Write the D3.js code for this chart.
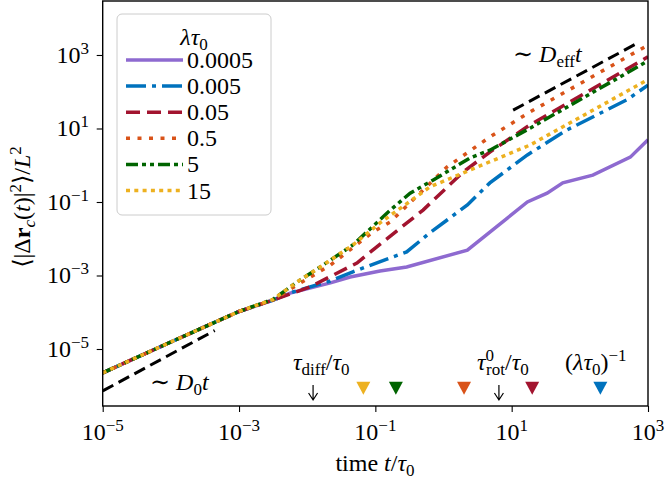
<!DOCTYPE html>
<html>
<head>
<meta charset="utf-8">
<script src="https://cdn.jsdelivr.net/npm/d3@7"></script>
<style>
body { margin: 0; background: #fff; }
text { font-family: "Liberation Serif", "DejaVu Serif", serif; fill: #000; }
</style>
</head>
<body>
<script>
// lambda*tau0 values, one curve each
var lambdas = [0.0005, 0.005, 0.05, 0.5, 5, 15];
var lambdaLabels = ["0.0005", "0.005", "0.05", "0.5", "5", "15"];

// time t/tau0 and MSD / L^2
var tPurple = [1e-5, 1e-4, 1e-3, 3.16e-3, 5.62e-3, 2.19e-2, 4.27e-2, 0.117, 0.288, 2.24, 17.0, 33.1, 56.2, 155, 550, 1000];
var msdPurple = [2.24e-6, 1.55e-5, 1.05e-4, 2.14e-4, 3.31e-4, 6.31e-4, 9.12e-4, 1.32e-3, 1.70e-3, 4.90e-3, 0.1, 0.174, 0.331, 0.537, 1.66, 4.90];

var tBlue = [1e-5, 1e-4, 1e-3, 3.16e-3, 5.62e-3, 2.19e-2, 4.68e-2, 0.166, 0.288, 0.631, 2.24, 4.79, 17.0, 64.6, 490, 1000];
var msdBlue = [2.24e-6, 1.55e-5, 1.05e-4, 2.14e-4, 3.39e-4, 7.08e-4, 1.26e-3, 3.02e-3, 4.37e-3, 1.45e-2, 8.32e-2, 0.331, 1.91, 9.12, 60.3, 151];

var tCrimson = [1e-5, 1e-4, 1e-3, 3.16e-3, 1.1e-2, 5.37e-2, 0.105, 0.501, 1.95, 4.79, 18.6, 1000];
var msdCrimson = [2.24e-6, 1.55e-5, 1.05e-4, 2.14e-4, 4.90e-4, 2.19e-3, 6.03e-3, 6.03e-2, 0.661, 2.29, 12.6, 891];

var tOrange = [1e-5, 1e-4, 1e-3, 3.16e-3, 7.08e-3, 2.19e-2, 9.12e-2, 0.166, 1.12, 4.79, 18.6, 1000];
var msdOrange = [2.24e-6, 1.55e-5, 1.05e-4, 2.14e-4, 5.50e-4, 1.91e-3, 1.51e-2, 2.88e-2, 0.891, 5.89, 28.2, 1860];

var tGreen = [1e-5, 1e-4, 1e-3, 3.16e-3, 7.08e-3, 1.55e-2, 4.68e-2, 0.166, 0.324, 0.708, 2.45, 4.79, 18.6, 1000];
var msdGreen = [2.24e-6, 1.55e-5, 1.05e-4, 2.24e-4, 6.61e-4, 1.70e-3, 6.76e-3, 6.03e-2, 0.174, 0.398, 1.58, 2.57, 10.2, 692];

var tYellow = [1e-5, 1e-4, 1e-3, 3.16e-3, 7.08e-3, 1.55e-2, 4.68e-2, 0.117, 0.631, 2.45, 18.6, 1000];
var msdYellow = [2.24e-6, 1.55e-5, 1.05e-4, 2.24e-4, 6.61e-4, 1.70e-3, 6.76e-3, 2.69e-2, 0.257, 0.741, 3.55, 214];

// guide lines ~ D0 t and ~ Deff t
var D0 = 0.0724;
var tD0 = [1e-5, 4.4e-4];
var Deff = 3.0;
var tDeff = [10.5, 708];

// characteristic times on the time axis
var tauDiff = 0.0122;
var tauRot = 6.5;
var markerLevel = 8.5e-7;

var xTicks = [1e-5, 1e-3, 1e-1, 1e1, 1e3];
var xTickExp = ["\u22125", "\u22123", "\u22121", "1", "3"];
var yTicks = [1e-5, 1e-3, 1e-1, 1e1, 1e3];
var yTickExp = ["\u22125", "\u22123", "\u22121", "1", "3"];

var colors = ["#8e6ad0", "#0072bd", "#a2142f", "#d95319", "#006400", "#edb120"];
var dashes = [null, "20,6,4,6", "14,7", "4,7.5", "12,4,4,4,4,4", "4,4.3"];

var series = [
	{t: tPurple, m: msdPurple},
	{t: tBlue, m: msdBlue},
	{t: tCrimson, m: msdCrimson},
	{t: tOrange, m: msdOrange},
	{t: tGreen, m: msdGreen},
	{t: tYellow, m: msdYellow}
];

var width = 666, height = 480;
var plotLeft = 102.7, plotRight = 648, plotTop = 1, plotBottom = 406;

var svg = d3.select("body").append("svg")
	.attr("width", width)
	.attr("height", height);

svg.append("rect").attr("width", width).attr("height", height).attr("fill", "#fff");

var x = d3.scaleLog().domain([1e-5, 1e3]).range([plotLeft, plotRight]);
var y = d3.scaleLog().domain([Math.pow(10, -6.551), Math.pow(10, 4.469)]).range([plotBottom, plotTop]);

svg.append("clipPath").attr("id", "plot")
	.append("rect").attr("x", plotLeft).attr("y", plotTop).attr("width", plotRight - plotLeft).attr("height", plotBottom - plotTop);

var plot = svg.append("g").attr("clip-path", "url(#plot)");

var line = d3.line().x(function(d) { return x(d[0]); }).y(function(d) { return y(d[1]); });

// guide lines
plot.append("path")
	.attr("d", line(tD0.map(function(t) { return [t, D0 * t]; })))
	.attr("fill", "none").attr("stroke", "#000").attr("stroke-width", 3).attr("stroke-dasharray", "12,6");
plot.append("path")
	.attr("d", line(tDeff.map(function(t) { return [t, Deff * t]; })))
	.attr("fill", "none").attr("stroke", "#000").attr("stroke-width", 3).attr("stroke-dasharray", "12,6");

// curves, drawn in the legend order
series.forEach(function(s, i) {
	plot.append("path")
		.attr("d", line(d3.zip(s.t, s.m)))
		.attr("fill", "none")
		.attr("stroke", colors[i])
		.attr("stroke-width", 3.5)
		.attr("stroke-dasharray", dashes[i]);
});

// triangles at 1/lambda
var tri = "M-7,-6.5L7,-6.5L0,6.5Z";
lambdas.forEach(function(l, i) {
	var t = 1 / l;
	if (t > 1e3) return;
	plot.append("path")
		.attr("d", tri)
		.attr("transform", "translate(" + x(t) + "," + y(markerLevel) + ")")
		.attr("fill", colors[i]);
});

// small arrows for tau_diff and tau_rot
[tauDiff, tauRot].forEach(function(t) {
	var ax = x(t);
	svg.append("path")
		.attr("d", "M" + ax + ",385L" + ax + ",400M" + (ax - 4.5) + ",393L" + ax + ",400L" + (ax + 4.5) + ",393")
		.attr("fill", "none").attr("stroke", "#000").attr("stroke-width", 1.2);
});

// axes
svg.append("g").attr("transform", "translate(0," + plotBottom + ")")
	.call(d3.axisBottom(x).tickValues(xTicks).tickFormat("").tickSize(6).tickSizeOuter(0));
svg.append("g").attr("transform", "translate(" + plotLeft + ",0)")
	.call(d3.axisLeft(y).tickValues(yTicks).tickFormat("").tickSize(6).tickSizeOuter(0));
svg.selectAll(".domain").remove();
svg.selectAll(".tick line").attr("stroke", "#000").attr("stroke-width", 1.1);

svg.append("rect")
	.attr("x", plotLeft).attr("y", plotTop).attr("width", plotRight - plotLeft).attr("height", plotBottom - plotTop)
	.attr("fill", "none").attr("stroke", "#000").attr("stroke-width", 1.4);

// text with sub / superscripts
function rich(g, parts, size) {
	var txt = g.append("text").attr("font-size", size);
	var shift = 0;
	parts.forEach(function(p) {
		var ts = txt.append("tspan").text(p.s);
		var want = p.sup ? -9 : (p.sub ? 5 : 0);
		if (p.sup || p.sub) ts.attr("font-size", 17);
		if (want - shift !== 0) ts.attr("dy", want - shift);
		shift = want;
		if (p.i) ts.attr("font-style", "italic");
		if (p.b) ts.attr("font-weight", "bold");
		if (p.dx) ts.attr("dx", p.dx);
	});
	return txt;
}

xTicks.forEach(function(t, i) {
	rich(svg, [{s: "10"}, {s: xTickExp[i], sup: true}], 24)
		.attr("x", x(t)).attr("y", 440).attr("text-anchor", "middle");
});
yTicks.forEach(function(v, i) {
	rich(svg, [{s: "10"}, {s: yTickExp[i], sup: true}], 24)
		.attr("x", 89).attr("y", y(v) + 8).attr("text-anchor", "end");
});

// axis labels
rich(svg, [{s: "time "}, {s: "t", i: true}, {s: "/"}, {s: "\u03c4", i: true}, {s: "0", sub: true}], 24)
	.attr("x", 375).attr("y", 471).attr("text-anchor", "middle");

rich(svg, [{s: "\u27e8|\u0394"}, {s: "r", b: true}, {s: "c", i: true, sub: true}, {s: "("}, {s: "t", i: true},
	{s: ")|"}, {s: "2", sup: true}, {s: "\u27e9/"}, {s: "L", i: true}, {s: "2", sup: true}], 24)
	.attr("text-anchor", "middle")
	.attr("transform", "translate(30,207) rotate(-90)");

// annotations
rich(svg, [{s: "\u223c "}, {s: "D", i: true}, {s: "0", sub: true}, {s: "t", i: true}], 24)
	.attr("x", 150).attr("y", 390);
rich(svg, [{s: "\u223c "}, {s: "D", i: true}, {s: "eff", sub: true}, {s: "t", i: true}], 24)
	.attr("x", 513).attr("y", 62);
rich(svg, [{s: "\u03c4", i: true}, {s: "diff", sub: true}, {s: "/"}, {s: "\u03c4", i: true}, {s: "0", sub: true}], 24)
	.attr("x", 293).attr("y", 370);
rich(svg, [{s: "\u03c4", i: true}, {s: "0", sup: true}, {s: "rot", sub: true, dx: -8}, {s: "/"}, {s: "\u03c4", i: true}, {s: "0", sub: true}], 24)
	.attr("x", 477).attr("y", 370);
rich(svg, [{s: "("}, {s: "\u03bb\u03c4", i: true}, {s: "0", sub: true}, {s: ")"}, {s: "\u22121", sup: true}], 24)
	.attr("x", 565).attr("y", 370);

// legend
var leg = svg.append("g");
leg.append("rect")
	.attr("x", 117).attr("y", 14).attr("width", 154).attr("height", 201).attr("rx", 5)
	.attr("fill", "#fff").attr("fill-opacity", 0.8)
	.attr("stroke", "#cccccc").attr("stroke-width", 1);
rich(leg, [{s: "\u03bb\u03c4", i: true}, {s: "0", sub: true}], 24)
	.attr("x", 194).attr("y", 45).attr("text-anchor", "middle");
lambdaLabels.forEach(function(lab, i) {
	var ly = 60 + i * 26.1;
	leg.append("line")
		.attr("x1", 126).attr("x2", 183).attr("y1", ly).attr("y2", ly)
		.attr("stroke", colors[i]).attr("stroke-width", 3.5)
		.attr("stroke-dasharray", dashes[i]);
	leg.append("text").attr("font-size", 24)
		.attr("x", 187).attr("y", ly + 8).text(lab);
});
</script>
</body>
</html>
